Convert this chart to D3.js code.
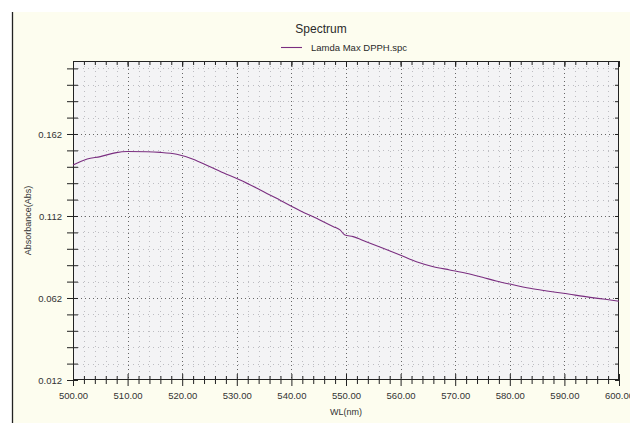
<!DOCTYPE html>
<html>
<head>
<meta charset="utf-8">
<script src="https://cdn.jsdelivr.net/npm/d3@7"></script>
<style>
  html, body { margin: 0; padding: 0; background: #ffffff; }
  svg { display: block; }
  text { font-family: "Liberation Sans", Arial, sans-serif; }
</style>
</head>
<body>
<script>
// ---- data ----
const wavelength = [500, 502.6, 505, 507.7, 510, 513.5, 516, 519, 522, 525, 528, 530.6, 534.3,
  538, 541.6, 545.2, 547.7, 548.9, 549.8, 551.3, 553.7, 556.8, 559.9, 562.9, 566, 569, 572,
  575, 577.5, 580, 583.7, 586.8, 589.8, 594.7, 597.5, 600];
const absorbance = [0.1431, 0.1468, 0.1482, 0.1505, 0.1513, 0.1512, 0.1508, 0.1496, 0.1466, 0.1421,
  0.1376, 0.1340, 0.1279, 0.1215, 0.1152, 0.1096, 0.1055, 0.1035, 0.1004, 0.0994, 0.0963, 0.0923,
  0.0882, 0.0841, 0.0811, 0.0791, 0.0771, 0.0746, 0.0724, 0.0705, 0.0679, 0.0663, 0.0649, 0.0624,
  0.0612, 0.0600];
const xMajorTicks = [500, 510, 520, 530, 540, 550, 560, 570, 580, 590, 600];
const xMinorTicks = d3.range(0, 51).map(i => 500 + i * 2);
const yMajorTicks = [0.012, 0.062, 0.112, 0.162];
const yMinorTicks = d3.range(0, 20).map(i => +(0.012 + i * 0.01).toFixed(3));
const xDomain = [500, 600];
const yDomain = [0.012, 0.2065];
const chartTitle = "Spectrum";
const seriesName = "Lamda Max DPPH.spc";
const xTitle = "WL(nm)";
const yTitle = "Absorbance(Abs)";

// ---- layout ----
const W = 630, H = 423;
const m = { left: 73, right: 11, top: 61, bottom: 43 };
const pw = W - m.left - m.right, ph = H - m.top - m.bottom;

const svg = d3.select("body").append("svg").attr("width", W).attr("height", H);

// outer panel
svg.append("rect").attr("x", 12).attr("y", 12).attr("width", W - 12).attr("height", H - 12)
  .attr("fill", "#fdfdef");
svg.append("line").attr("x1", 12.5).attr("x2", 12.5).attr("y1", 12).attr("y2", H)
  .attr("stroke", "#222").attr("stroke-width", 1.3);

const x = d3.scaleLinear().domain(xDomain).range([m.left, m.left + pw]);
const y = d3.scaleLinear().domain(yDomain).range([m.top + ph, m.top]);

// plot background
svg.append("rect").attr("x", m.left).attr("y", m.top).attr("width", pw).attr("height", ph)
  .attr("fill", "#f3f3f5");

// grid
const grid = svg.append("g");
grid.selectAll(".vmin").data(xMinorTicks.filter(v => v % 10 !== 0)).join("line")
  .attr("x1", d => Math.round(x(d)) + 0.5).attr("x2", d => Math.round(x(d)) + 0.5)
  .attr("y1", m.top).attr("y2", m.top + ph)
  .attr("stroke", "#bdbdc2").attr("stroke-dasharray", "1,4");
grid.selectAll(".hmin").data(yMinorTicks.filter(v => !yMajorTicks.includes(v))).join("line")
  .attr("y1", d => Math.round(y(d)) + 0.5).attr("y2", d => Math.round(y(d)) + 0.5)
  .attr("x1", m.left).attr("x2", m.left + pw)
  .attr("stroke", "#bdbdc2").attr("stroke-dasharray", "1,4");
grid.selectAll(".vmaj").data(xMajorTicks.slice(1, -1)).join("line")
  .attr("x1", d => Math.round(x(d)) + 0.5).attr("x2", d => Math.round(x(d)) + 0.5)
  .attr("y1", m.top).attr("y2", m.top + ph)
  .attr("stroke", "#666").attr("stroke-dasharray", "1,3");
grid.selectAll(".hmaj").data(yMajorTicks.slice(1)).join("line")
  .attr("y1", d => Math.round(y(d)) + 0.5).attr("y2", d => Math.round(y(d)) + 0.5)
  .attr("x1", m.left).attr("x2", m.left + pw)
  .attr("stroke", "#666").attr("stroke-dasharray", "1,3");

// plot border
svg.append("rect").attr("x", m.left + 0.5).attr("y", m.top + 0.5).attr("width", pw - 1).attr("height", ph - 1)
  .attr("fill", "none").attr("stroke", "#222").attr("stroke-width", 1);

// axes with crossing ticks
const axisStyle = g => {
  g.select(".domain").remove();
  g.selectAll(".tick line").attr("stroke", "#222");
  g.selectAll(".tick text").attr("fill", "#333").attr("font-size", "9.5px")
    .attr("font-family", "'Liberation Sans', Arial, sans-serif");
};
const xb = m.top + ph;
// bottom: labels
svg.append("g").attr("transform", `translate(0,${xb})`)
  .call(d3.axisBottom(x).tickValues(xMajorTicks).tickFormat(d3.format(".2f")).tickSize(6).tickPadding(6))
  .call(axisStyle);
svg.append("g").attr("transform", `translate(0,${xb})`)
  .call(d3.axisTop(x).tickValues(xMajorTicks).tickFormat("").tickSize(6)).call(axisStyle);
svg.append("g").attr("transform", `translate(0,${xb})`)
  .call(d3.axisBottom(x).tickValues(xMinorTicks.filter(v => v % 10 !== 0)).tickFormat("").tickSize(4)).call(axisStyle);
svg.append("g").attr("transform", `translate(0,${xb})`)
  .call(d3.axisTop(x).tickValues(xMinorTicks.filter(v => v % 10 !== 0)).tickFormat("").tickSize(4)).call(axisStyle);
// top (inside)
svg.append("g").attr("transform", `translate(0,${m.top})`)
  .call(d3.axisBottom(x).tickValues(xMajorTicks).tickFormat("").tickSize(6)).call(axisStyle);
svg.append("g").attr("transform", `translate(0,${m.top})`)
  .call(d3.axisBottom(x).tickValues(xMinorTicks).tickFormat("").tickSize(4)).call(axisStyle);

// left y
svg.append("g").attr("transform", `translate(${m.left},0)`)
  .call(d3.axisLeft(y).tickValues(yMajorTicks).tickFormat(d3.format(".3f")).tickSize(6).tickPadding(5))
  .call(axisStyle);
svg.append("g").attr("transform", `translate(${m.left},0)`)
  .call(d3.axisLeft(y).tickValues(yMinorTicks.filter(v => !yMajorTicks.includes(v))).tickFormat("").tickSize(6))
  .call(axisStyle);
svg.append("g").attr("transform", `translate(${m.left},0)`)
  .call(d3.axisRight(y).tickValues(yMinorTicks).tickFormat("").tickSize(5))
  .call(axisStyle);
// right (inside)
svg.append("g").attr("transform", `translate(${m.left + pw},0)`)
  .call(d3.axisLeft(y).tickValues(yMinorTicks).tickFormat("").tickSize(4))
  .call(axisStyle);

// series
const line = d3.line().curve(d3.curveMonotoneX).x((d, i) => x(wavelength[i])).y(d => y(d));
svg.append("path").datum(absorbance).attr("d", line)
  .attr("fill", "none").attr("stroke", "#7a2e80").attr("stroke-width", 1.1);

// title & legend
svg.append("text").attr("x", 321).attr("y", 33).attr("text-anchor", "middle")
  .attr("font-size", "12px").attr("fill", "#2a2a2a").text(chartTitle);
svg.append("line").attr("x1", 281).attr("x2", 302).attr("y1", 47.5).attr("y2", 47.5)
  .attr("stroke", "#7a2e80").attr("stroke-width", 1.1);
svg.append("text").attr("x", 311).attr("y", 51).attr("font-size", "9.5px").attr("fill", "#2a2a2a")
  .text(seriesName);

// axis titles
svg.append("text").attr("x", m.left + pw / 2).attr("y", 415).attr("text-anchor", "middle")
  .attr("font-size", "9px").attr("fill", "#333").text(xTitle);
svg.append("text").attr("transform", `translate(31,${m.top + ph / 2}) rotate(-90)`)
  .attr("text-anchor", "middle").attr("font-size", "9px").attr("fill", "#333").text(yTitle);
</script>
</body>
</html>
